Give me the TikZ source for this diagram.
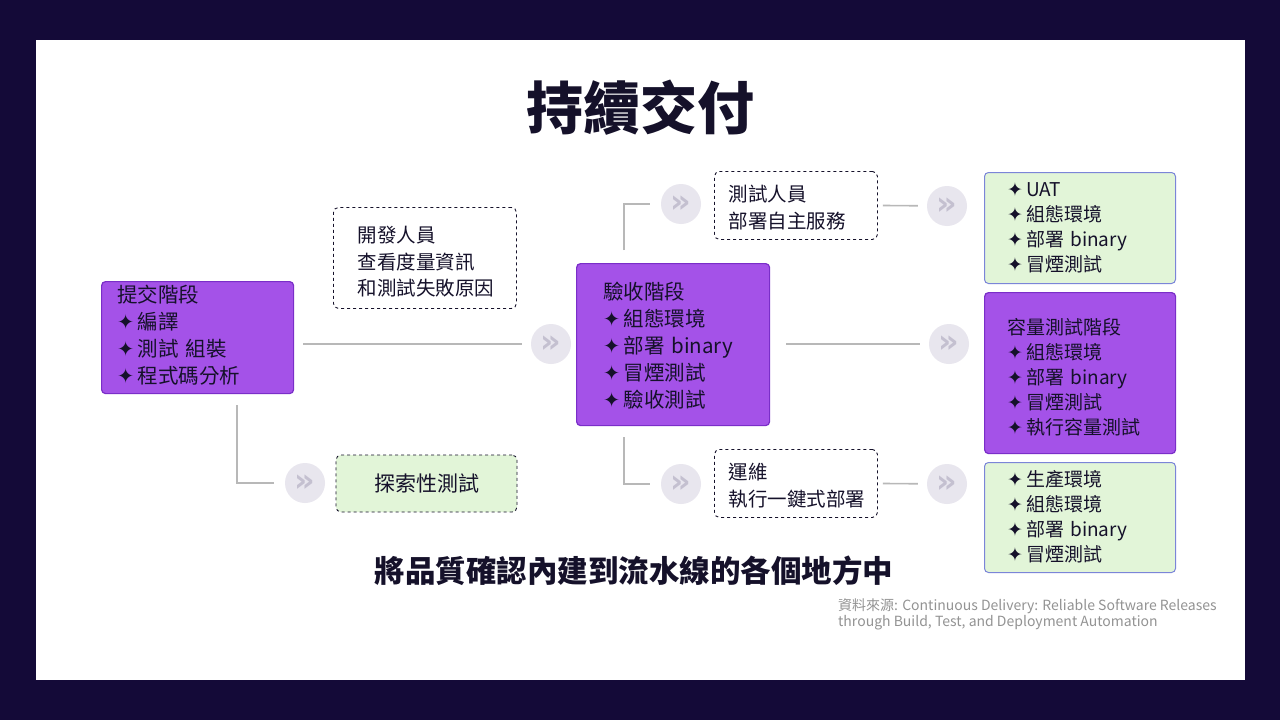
\documentclass[tikz,border=0pt]{standalone}
\usepackage{fontspec}
\setmainfont{Noto Sans CJK TC}
\newfontfamily\symfont{DejaVu Sans}
\usetikzlibrary{positioning}
\definecolor{bgdark}{HTML}{140A38}
\definecolor{stagefill}{HTML}{A452E8}
\definecolor{stageline}{HTML}{7A2EC8}
\definecolor{envfill}{HTML}{E2F5D8}
\definecolor{envline}{HTML}{7B85D8}
\definecolor{chevfill}{HTML}{E8E6EE}
\definecolor{chevtext}{HTML}{C4C0D0}
\definecolor{linkgray}{HTML}{B8B8B8}
\definecolor{inkdark}{HTML}{15112A}
\newcommand{\st}{{\symfont\char"2726}\,}
\tikzset{
  stage/.style={draw=stageline, line width=1.2pt, fill=stagefill, rounded corners=4pt,
    align=left, anchor=north west, inner sep=0pt, font=\fontsize{20.5}{27}\selectfont, text=inkdark},
  env/.style={stage, draw=envline, fill=envfill, line width=1pt},
  note/.style={draw=inkdark, dashed, line width=0.9pt, rounded corners=5pt, fill=white,
    align=left, anchor=north west, inner sep=0pt, font=\fontsize{19.5}{26.5}\selectfont, text=inkdark},
  chev/.style={circle, fill=chevfill, minimum size=40pt, inner sep=0pt, text=chevtext,
    font=\symfont\bfseries\fontsize{32}{32}\selectfont},
  link/.style={draw=linkgray, line width=1.6pt},
}
\begin{document}
\begin{tikzpicture}[x=1pt, y=-1pt]
  \fill[bgdark] (0,0) rectangle (1280,720);
  \fill[white] (36,40) rectangle (1245,680);
  \useasboundingbox (0,0) rectangle (1280,720);

  \node[font=\bfseries\fontsize{57}{57}\selectfont, text=inkdark] (title) at (640,108) {持續交付};

  % stages
  \node[stage, minimum width=192pt, minimum height=112pt, text width=185pt] (commit) at (101,281)
    {\hspace*{12pt}\parbox[t]{172pt}{\vspace*{-4pt}提交階段\\\st 編譯\\\st 測試 組裝\\\st 程式碼分析}};
  \node[stage, minimum width=193pt, minimum height=162pt, text width=186pt] (accept) at (576,263)
    {\hspace*{23pt}\parbox[t]{162pt}{\vspace*{3pt}驗收階段\\\st 組態環境\\\st 部署 binary\\\st 冒煙測試\\\st 驗收測試}};
  \node[stage, minimum width=191pt, minimum height=161pt, text width=186pt, font=\fontsize{19}{25}\selectfont] (capacity) at (984,292)
    {\hspace*{20pt}\parbox[t]{164pt}{\vspace*{8pt}容量測試階段\\\st 組態環境\\\st 部署 binary\\\st 冒煙測試\\\st 執行容量測試}};

  % environments
  \node[env, minimum width=191pt, minimum height=111pt, text width=186pt, font=\fontsize{19}{25}\selectfont] (uat) at (984,172)
    {\hspace*{20pt}\parbox[t]{164pt}{\vspace*{-1pt}\st UAT\\\st 組態環境\\\st 部署 binary\\\st 冒煙測試}};
  \node[env, minimum width=191pt, minimum height=110pt, text width=186pt, font=\fontsize{19}{25}\selectfont] (prod) at (984,462)
    {\hspace*{20pt}\parbox[t]{164pt}{\vspace*{-1pt}\st 生產環境\\\st 組態環境\\\st 部署 binary\\\st 冒煙測試}};
  \node[note, fill=envfill, minimum width=181pt, minimum height=57pt, align=center, anchor=center,
    font=\fontsize{21}{21}\selectfont] (explore) at (426.5,483.5) {探索性測試};

  % people
  \node[note, minimum width=183pt, minimum height=101pt, text width=180pt] (dev) at (333,207)
    {\hspace*{23pt}\parbox[t]{155pt}{\vspace*{8pt}開發人員\\查看度量資訊\\和測試失敗原因}};
  \node[note, minimum width=163pt, minimum height=68pt, text width=160pt] (tester) at (714,171)
    {\hspace*{13pt}\parbox[t]{145pt}{\vspace*{4pt}測試人員\\部署自主服務}};
  \node[note, minimum width=163pt, minimum height=68pt, text width=160pt] (ops) at (714,449)
    {\hspace*{13pt}\parbox[t]{145pt}{\vspace*{4pt}運維\\執行一鍵式部署}};

  % chevrons
  \node[chev] (c1) at (551,344) {»};
  \node[chev] (c2) at (305,483) {»};
  \node[chev] (c3) at (681,204) {»};
  \node[chev] (c4) at (947,206) {»};
  \node[chev] (c5) at (949,344) {»};
  \node[chev] (c6) at (681,484) {»};
  \node[chev] (c7) at (947,484) {»};

  \coordinate (kc) at (237,405);
  \coordinate (ka) at (624,250);
  \coordinate (kb) at (624,437);

  % links
  \draw[link, shorten <=9pt, shorten >=9pt] (commit.east |- c1) -- (c1);
  \draw[link, shorten >=11pt] (kc) |- (c2);
  \draw[link, shorten >=11pt] (ka) |- (c3);
  \draw[link, shorten >=11pt] (kb) |- (c6);
  \draw[link, shorten <=5pt, shorten >=9pt] (tester.east) -- (c4);
  \draw[link, shorten <=16pt, shorten >=9pt] (accept.east |- c5) -- (c5);
  \draw[link, shorten <=5pt, shorten >=9pt] (ops.east) -- (c7);

  \node[font=\bfseries\fontsize{30.5}{30.5}\selectfont, text=inkdark] (motto) at (634,571)
    {將品質確認內建到流水線的各個地方中};
  \node[anchor=north west, align=left, inner sep=0pt, text=gray!85,
    font=\fontsize{14}{16}\selectfont] (source) at (838,598)
    {資料來源: Continuous Delivery: Reliable Software Releases\\through Build, Test, and Deployment Automation};
\end{tikzpicture}
\end{document}
